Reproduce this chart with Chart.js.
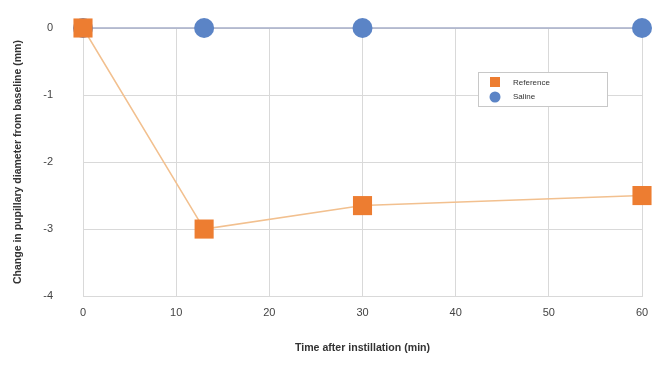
<!DOCTYPE html>
<html>
<head>
<meta charset="utf-8">
<script src="https://cdn.jsdelivr.net/npm/chart.js@4.4.1/dist/chart.umd.min.js"></script>
<style>
  html, body { margin: 0; padding: 0; background: #fff; }
  #wrap { width: 663px; height: 374px; }
</style>
</head>
<body>
<div id="wrap"><canvas id="chart"></canvas></div>
<script>
// data
const refTimes = [0, 13, 30, 60]
const refValues = [0, -3, -2.65, -2.5]
const salineTimes = [0, 13, 30, 60]
const salineValues = [0, 0, 0, 0]
const xTicks = [0, 10, 20, 30, 40, 50, 60]
const yTicks = [0, -1, -2, -3, -4]

const toPoints = (xs, ys) => xs.map((x, i) => ({ x: x, y: ys[i] }))

// legend box drawn inside the plot area
const boxLegend = {
  id: 'boxLegend',
  afterDraw(chart) {
    const ctx = chart.ctx
    const x = 478, y = 72, w = 129, h = 34
    ctx.save()
    ctx.fillStyle = '#fff'
    ctx.fillRect(x, y, w, h)
    ctx.strokeStyle = '#c8c8c8'
    ctx.lineWidth = 1
    ctx.strokeRect(x + 0.5, y + 0.5, w, h)

    // Reference marker
    ctx.fillStyle = '#ed7d31'
    ctx.fillRect(x + 12, y + 5, 10, 10)
    // Saline marker
    ctx.fillStyle = '#5b84c6'
    ctx.beginPath()
    ctx.arc(x + 17, y + 25, 5.5, 0, Math.PI * 2)
    ctx.fill()

    ctx.fillStyle = '#333'
    ctx.font = '8px "Liberation Sans", Arial, sans-serif'
    ctx.textBaseline = 'middle'
    ctx.fillText('Reference', x + 35, y + 11)
    ctx.fillText('Saline', x + 35, y + 25)
    ctx.restore()
  },
}

new Chart('chart', {
  type: 'scatter',
  data: {
    datasets: [
      {
        label: 'Saline',
        data: toPoints(salineTimes, salineValues),
        showLine: true,
        borderColor: '#a6aec9',
        borderWidth: 1.5,
        backgroundColor: '#5b84c6',
        pointStyle: 'circle',
        pointRadius: 10,
        pointBorderWidth: 0,
        clip: false,
        order: 2,
      },
      {
        label: 'Reference',
        data: toPoints(refTimes, refValues),
        showLine: true,
        borderColor: '#f2c08f',
        borderWidth: 1.5,
        backgroundColor: '#ed7d31',
        pointStyle: 'rect',
        pointRadius: 13.5,
        pointBorderWidth: 0,
        clip: false,
        order: 1,
      },
    ],
  },
  options: {
    responsive: true,
    maintainAspectRatio: false,
    animation: false,
    layout: {
      autoPadding: false,
      padding: { top: 28, right: 21, bottom: 16, left: 6 },
    },
    plugins: {
      legend: { display: false },
      tooltip: { enabled: false },
    },
    scales: {
      x: {
        type: 'linear',
        min: 0,
        max: 60,
        afterBuildTicks: (axis) => {
          axis.ticks = xTicks.map((v) => ({ value: v }))
        },
        grid: { color: '#d9d9d9', drawTicks: false },
        border: { color: '#d9d9d9' },
        ticks: {
          color: '#444',
          padding: 10,
          font: { family: 'Liberation Sans, Arial, sans-serif', size: 11 },
        },
        title: {
          display: true,
          text: 'Time after instillation (min)',
          color: '#333',
          padding: { top: 12, bottom: 4 },
          font: { family: 'Liberation Sans, Arial, sans-serif', size: 10.6, weight: 'bold' },
        },
      },
      y: {
        type: 'linear',
        min: -4,
        max: 0,
        afterBuildTicks: (axis) => {
          axis.ticks = yTicks.map((v) => ({ value: v }))
        },
        afterFit: (axis) => {
          // fixed axis width, and keep the tick padding out of the top/bottom space
          axis.width = 77
          axis.paddingTop = 0
          axis.paddingBottom = 0
        },
        grid: { color: '#d9d9d9', drawTicks: false },
        border: { color: '#d9d9d9' },
        ticks: {
          color: '#444',
          padding: 30,
          font: { family: 'Liberation Sans, Arial, sans-serif', size: 11 },
        },
        title: {
          display: true,
          text: 'Change in pupillary diameter from baseline (mm)',
          color: '#333',
          padding: { top: 6, bottom: 0 },
          font: { family: 'Liberation Sans, Arial, sans-serif', size: 10.5, weight: 'bold' },
        },
      },
    },
  },
  plugins: [boxLegend],
})
</script>
</body>
</html>
